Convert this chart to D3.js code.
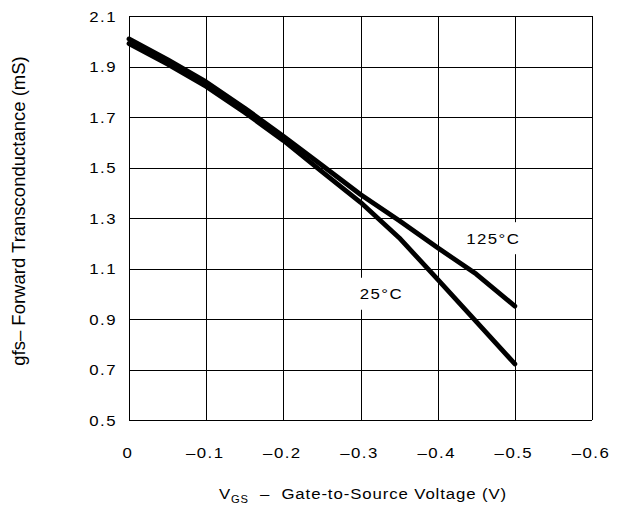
<!DOCTYPE html>
<html>
<head>
<meta charset="utf-8">
<script src="https://cdn.jsdelivr.net/npm/d3@7"></script>
<style>
  html, body { margin: 0; padding: 0; background: #fff; }
  svg { display: block; }
  text { font-family: "Liberation Sans", Arial, Helvetica, sans-serif; fill: #000; }
</style>
</head>
<body>
<svg id="chart" width="619" height="510"></svg>
<script>
// Gate-source voltage samples (V)
const vgs = [0, -0.05, -0.1, -0.15, -0.2, -0.25, -0.3, -0.35, -0.4, -0.45, -0.5];
// Forward transconductance (mS) at each temperature
const gfs125 = [2.009, 1.927, 1.839, 1.735, 1.624, 1.509, 1.393, 1.29, 1.182, 1.078, 0.951];
const gfs25  = [1.991, 1.909, 1.821, 1.718, 1.607, 1.484, 1.362, 1.222, 1.057, 0.89, 0.722];

// Axis ticks and their labels
const xTicks = [0, -0.1, -0.2, -0.3, -0.4, -0.5, -0.6];
const xTickLabels = ["0", "\u20130.1", "\u20130.2", "\u20130.3", "\u20130.4", "\u20130.5", "\u20130.6"];
const yTicks = [0.5, 0.7, 0.9, 1.1, 1.3, 1.5, 1.7, 1.9, 2.1];
const yTickLabels = ["0.5", "0.7", "0.9", "1.1", "1.3", "1.5", "1.7", "1.9", "2.1"];

// Curve annotations
const curveLabels = [
  { text: "125\u00B0C", v: -0.472, g: 1.22 },
  { text: "25\u00B0C",  v: -0.327, g: 1.0 }
];

const svg = d3.select("#chart");
const plotL = 129, plotR = 592, plotT = 16, plotB = 420;
const SX = 1.12, LS = "1.3px";

const x = d3.scaleLinear().domain([0, -0.6]).range([plotL, plotR]);
const y = d3.scaleLinear().domain([0.5, 2.1]).range([plotB, plotT]);

// Grid
const grid = svg.append("g").attr("stroke", "#000").attr("stroke-width", 1).attr("shape-rendering", "crispEdges");
grid.selectAll("line.v").data(xTicks).join("line")
  .attr("x1", d => Math.round(x(d)) + 0.5).attr("x2", d => Math.round(x(d)) + 0.5)
  .attr("y1", plotT).attr("y2", plotB);
grid.selectAll("line.h").data(yTicks).join("line")
  .attr("x1", plotL).attr("x2", plotR)
  .attr("y1", d => Math.round(y(d)) + 0.5).attr("y2", d => Math.round(y(d)) + 0.5);

// X axis labels
const xAxis = d3.axisBottom(x).tickValues(xTicks)
  .tickFormat((d, i) => xTickLabels[i]).tickSize(0).tickPadding(0);
const gx = svg.append("g").attr("transform", `translate(0,${plotB})`).call(xAxis);
gx.select(".domain").remove();
gx.selectAll(".tick text")
  .attr("y", 0).attr("dy", null)
  .attr("transform", `translate(-1.5,38) scale(${SX},1)`)
  .style("font-size", "15px").style("letter-spacing", LS).attr("fill", "#000");

// Y axis labels
const yAxis = d3.axisLeft(y).tickValues(yTicks)
  .tickFormat((d, i) => yTickLabels[i]).tickSize(0).tickPadding(0);
const gy = svg.append("g").attr("transform", `translate(${plotL},0)`).call(yAxis);
gy.select(".domain").remove();
gy.selectAll(".tick text")
  .attr("x", 0).attr("dy", "0.36em")
  .attr("transform", `translate(-12,0) scale(${SX},1)`)
  .style("font-size", "15px").style("letter-spacing", LS).attr("fill", "#000");

// Axis titles
const xt = svg.append("text")
  .attr("xml:space", "preserve")
  .attr("transform", `translate(363,499) scale(${SX},1)`)
  .attr("text-anchor", "middle").style("font-size", "15px").style("letter-spacing", "0.8px");
xt.append("tspan").text("V");
xt.append("tspan").attr("dy", 4).style("font-size", "10px").text("GS");
xt.append("tspan").attr("dy", -4).text("  \u2013  Gate-to-Source Voltage (V)");

svg.append("text")
  .attr("transform", "translate(25,211) rotate(-90)")
  .attr("text-anchor", "middle").style("font-size", "18.5px")
  .text("gfs\u2013 Forward Transconductance (mS)");

// Curve labels with white backing
const labelLayer = svg.append("g");
curveLabels.forEach(l => {
  const cx = x(l.v), cy = y(l.g);
  const g = labelLayer.append("g");
  const bg = g.append("rect").attr("fill", "#fff");
  const t = g.append("text")
    .attr("transform", `translate(${cx},${cy}) scale(${SX},1)`)
    .attr("text-anchor", "middle").attr("dy", "0.36em")
    .style("font-size", "15px").style("letter-spacing", LS).text(l.text);
  const w = t.node().getBBox().width * SX + 8;
  bg.attr("x", cx - w / 2).attr("y", cy - 16)
    .attr("width", w).attr("height", 32);
});

// Curves
const line = d3.line().x(d => x(d[0])).y(d => y(d[1]));
[gfs125, gfs25].forEach(series => {
  svg.append("path")
    .datum(vgs.map((v, i) => [v, series[i]]))
    .attr("d", line)
    .attr("fill", "none").attr("stroke", "#000")
    .attr("stroke-width", 4.8)
    .attr("stroke-linejoin", "round").attr("stroke-linecap", "round");
});
</script>
</body>
</html>
